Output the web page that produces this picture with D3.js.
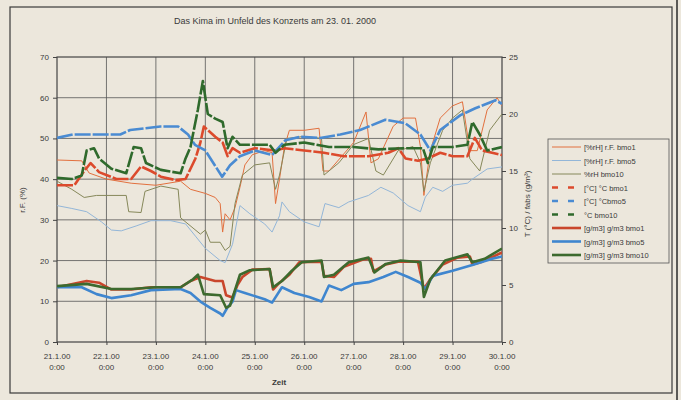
<!DOCTYPE html>
<html>
<head>
<meta charset="utf-8">
<script src="https://d3js.org/d3.v7.min.js"></script>
<style>
  body { margin: 0; background: #ece7dc; }
  text { font-family: "Liberation Sans", Arial, sans-serif; fill: #3a3a3a; }
</style>
</head>
<body>
<div id="chart"></div>
<script>
// day labels for the time axis (0 = 21.1.00 0:00)
var dayLabels = ["21.1.00", "22.1.00", "23.1.00", "24.1.00", "25.1.00", "26.1.00", "27.1.00", "28.1.00", "29.1.00", "30.1.00"];
var leftTicks = [0, 10, 20, 30, 40, 50, 60, 70];
var rightTicks = [0, 5, 10, 15, 20, 25];

// relative humidity, % (left axis) : [day, value]
var rfBmo1 = [[0,44.7],[0.5,44.5],[0.65,41.5],[1,40],[1.5,39],[2,38.5],[2.5,39.5],[2.7,37.5],[3,36.5],[3.2,35.5],[3.3,34],[3.35,27],[3.4,31.5],[3.5,30],[3.6,33],[3.7,38],[3.8,43.5],[3.95,46],[4.2,47],[4.35,46.5],[4.42,34],[4.5,40],[4.6,48],[4.7,52],[5,52],[5.3,52.5],[5.38,42],[5.5,42],[6,49],[6.25,56.5],[6.35,44],[6.5,45],[6.8,53],[7,55],[7.25,55],[7.35,48],[7.42,36],[7.55,47],[7.75,55],[8,58],[8.2,59],[8.35,47],[8.5,47],[8.7,57],[8.9,60],[9,58]];
var rfBmo5 = [[0,33.5],[0.3,32.8],[0.6,32],[0.9,29.5],[1.1,27.5],[1.3,27.3],[1.6,28.5],[1.9,29.8],[2.3,29.8],[2.6,29],[2.8,26],[3,23],[3.3,20],[3.4,19.5],[3.55,24],[3.7,33.5],[3.9,31.5],[4.2,29],[4.35,27],[4.5,31],[4.55,34.4],[4.7,32],[5,29.5],[5.3,28.3],[5.42,34],[5.7,33],[5.9,34.4],[6.3,36],[6.55,38],[6.8,36.6],[7.1,33.5],[7.35,32],[7.45,35.6],[7.6,38],[7.8,37],[8,38.5],[8.3,39],[8.4,40],[8.7,42.5],[9,43]];
var rfBmo10 = [[0,39.5],[0.3,37.5],[0.55,35.5],[0.8,36],[1.4,36],[1.45,32],[1.7,31.8],[1.78,37],[2.1,38.3],[2.45,37.5],[2.5,30.5],[2.9,26.5],[3,27.5],[3.1,24.5],[3.3,24.5],[3.4,22.5],[3.5,23.5],[3.6,34],[3.75,41],[4,43.5],[4.3,44],[4.42,37.5],[4.5,41],[4.65,50],[5,50.5],[5.35,50],[5.4,41],[5.7,44],[6,48.5],[6.3,50],[6.45,42],[6.6,41],[6.9,47],[7.2,48],[7.35,44],[7.42,37],[7.55,44],[7.8,52],[8,55],[8.2,57],[8.35,45],[8.55,42],[8.75,52],[9,56]];

// temperature, °C (right axis)
var tBmo1 = [[0,13.75],[0.35,13.75],[0.55,15],[0.68,15.7],[0.85,14.9],[1.2,14.3],[1.5,14.3],[1.7,15.4],[1.9,15],[2.1,14.5],[2.4,14.2],[2.6,14.3],[2.8,16.1],[2.9,17.5],[2.97,18.9],[3.2,18],[3.35,17.5],[3.45,16.3],[3.55,17],[3.7,16.6],[4,17],[4.4,16.8],[4.6,17],[5,16.8],[5.4,16.6],[5.8,16.3],[6.3,16.3],[6.7,16.6],[6.9,17],[7.05,16.1],[7.3,15.9],[7.5,16.1],[7.75,16.6],[8,16.3],[8.3,16.3],[8.45,17.9],[8.6,16.8],[8.8,16.6],[9,16.4]];
var tBmo5 = [[0,17.9],[0.32,18.2],[1.28,18.2],[1.48,18.6],[2.09,18.9],[2.45,18.9],[2.65,18.2],[2.79,17.3],[3,16.8],[3.34,14.5],[3.5,15.5],[3.7,16.3],[4,16.8],[4.35,16.4],[4.62,17.7],[4.92,18],[5.32,17.9],[5.73,18.2],[6.13,18.6],[6.64,19.5],[7.04,19.2],[7.35,18.2],[7.55,16.8],[7.75,18.6],[8.16,19.9],[8.46,20.5],[8.87,21.2],[9,20.9]];
var tBmo10 = [[0,14.4],[0.3,14.3],[0.5,14.6],[0.6,16.8],[0.75,17],[0.85,16.1],[1.1,15.2],[1.4,14.8],[1.55,17.1],[1.7,17],[1.8,15.7],[2.1,15.1],[2.5,14.8],[2.6,16.1],[2.7,17.1],[2.85,20.4],[2.95,22.9],[3.05,20],[3.2,19.6],[3.35,19.3],[3.45,17],[3.55,18],[3.7,17.3],[4,17.3],[4.3,17.3],[4.42,16.6],[4.6,17.3],[5,17.5],[5.5,17.1],[6,17.1],[6.5,16.9],[7,17],[7.4,17],[7.5,15.7],[7.6,17.1],[8,17.1],[8.3,17.3],[8.4,19.3],[8.55,18.2],[8.7,16.8],[9,17.1]];

// absolute humidity, g/m3 (right axis)
var gBmo1 = [[0,4.8],[0.6,5.35],[0.85,5.2],[1.1,4.6],[1.5,4.6],[1.9,4.8],[2.5,4.8],[2.7,5.35],[2.9,5.7],[3.2,5.35],[3.35,5.35],[3.42,4.1],[3.55,3.9],[3.65,5],[3.75,5.7],[3.95,6.35],[4.3,6.4],[4.37,4.6],[4.5,5.2],[4.7,5.9],[4.9,7],[5.35,7.05],[5.4,5.8],[5.6,5.7],[5.8,6.6],[6.2,7.25],[6.35,7.3],[6.4,6.2],[6.65,6.8],[6.9,7.05],[7.3,7.05],[7.42,4.65],[7.55,5.5],[7.8,6.8],[8.1,7.4],[8.35,7.5],[8.4,6.8],[8.6,7.05],[9,7.85]];
var gBmo5 = [[0,4.8],[0.5,4.8],[0.8,4.2],[1.1,3.85],[1.5,4.1],[1.9,4.55],[2.5,4.65],[2.7,4.3],[2.9,3.55],[3.1,3],[3.3,2.5],[3.35,2.3],[3.45,3.05],[3.55,3.55],[3.62,4.55],[3.8,4.3],[4.2,3.75],[4.35,3.45],[4.55,4.8],[4.8,4.3],[5.1,3.95],[5.35,3.55],[5.5,4.95],[5.75,4.55],[6,5.1],[6.3,5.25],[6.6,5.7],[6.85,6.15],[7.1,5.7],[7.35,5.2],[7.45,4.65],[7.6,5.8],[8,6.25],[8.4,6.75],[8.8,7.3],[9,7.5]];
var gBmo10 = [[0,4.9],[0.6,5.1],[1.1,4.65],[1.5,4.65],[2,4.8],[2.5,4.8],[2.75,5.5],[2.85,5.9],[2.97,4.2],[3.3,4.1],[3.42,3],[3.5,3.2],[3.7,5.9],[3.9,6.3],[4.3,6.4],[4.37,4.8],[4.55,5.35],[4.75,6.25],[4.95,7],[5.35,7.15],[5.4,5.7],[5.6,5.9],[5.9,7],[6.3,7.4],[6.42,6.1],[6.65,6.85],[6.95,7.15],[7.35,7],[7.42,3.95],[7.55,5.5],[7.85,7.15],[8.3,7.7],[8.4,7],[8.65,7.3],[9,8.2]];

var series = [
  { name: "[%rH] r.F. bmo1",   data: rfBmo1, axis: "L", color: "#e2703e", w: 1,   dash: null },
  { name: "[%rH] r.F. bmo5",   data: rfBmo5, axis: "L", color: "#93b6d8", w: 1,   dash: null },
  { name: "%rH bmo10",         data: rfBmo10, axis: "L", color: "#86885a", w: 1,  dash: null },
  { name: "[°C] °C bmo1",      data: tBmo1, axis: "R", color: "#dc4a2c", w: 2.6, dash: "6,10" },
  { name: "[°C] °Cbmo5",       data: tBmo5, axis: "R", color: "#4a8bd2", w: 2.6, dash: "6,10" },
  { name: "°C bmo10",          data: tBmo10, axis: "R", color: "#2f6a2c", w: 2.6, dash: "6,10" },
  { name: "[g/m3] g/m3 bmo1",  data: gBmo1, axis: "R", color: "#c9462c", w: 2.6, dash: null },
  { name: "[g/m3] g/m3 bmo5",  data: gBmo5, axis: "R", color: "#3f86cf", w: 2.6, dash: null },
  { name: "[g/m3] g/m3 bmo10", data: gBmo10, axis: "R", color: "#3d6a2e", w: 2.6, dash: null }
];

var W = 681, H = 400;
var svg = d3.select("#chart").append("svg").attr("width", W).attr("height", H);
svg.append("rect").attr("width", W).attr("height", H).attr("fill", "#ece7dc");

// outer frame
svg.append("rect").attr("x", 10).attr("y", 7).attr("width", 662).attr("height", 386)
  .attr("fill", "none").attr("stroke", "#3a3a3a").attr("stroke-width", 1.2);
svg.append("line").attr("x1", 677).attr("x2", 677).attr("y1", 0).attr("y2", H)
  .attr("stroke", "#2a2a2a").attr("stroke-width", 1.5);

var x = d3.scaleLinear().domain([0, 9]).range([57, 502]);
var yL = d3.scaleLinear().domain([0, 70]).range([342, 57]);
var yR = d3.scaleLinear().domain([0, 25]).range([342, 57]);

// grid
svg.append("g").selectAll("line").data(leftTicks.slice(1, -1)).join("line")
  .attr("x1", x(0)).attr("x2", x(9)).attr("y1", d => yL(d)).attr("y2", d => yL(d))
  .attr("stroke", "#555").attr("stroke-width", 0.8);
svg.append("g").selectAll("line").data(d3.range(1, 9)).join("line")
  .attr("x1", d => x(d)).attr("x2", d => x(d)).attr("y1", yL(0)).attr("y2", yL(70))
  .attr("stroke", "#555").attr("stroke-width", 0.8);
svg.append("rect").attr("x", x(0)).attr("y", yL(70)).attr("width", x(9) - x(0)).attr("height", yL(0) - yL(70))
  .attr("fill", "none").attr("stroke", "#444").attr("stroke-width", 1.2);

// axes
var gl = svg.append("g").attr("transform", "translate(" + x(0) + ",0)")
  .call(d3.axisLeft(yL).tickValues(leftTicks).tickSize(4).tickPadding(4));
var gr = svg.append("g").attr("transform", "translate(" + x(9) + ",0)")
  .call(d3.axisRight(yR).tickValues(rightTicks).tickSize(4).tickPadding(3));
var gb = svg.append("g").attr("transform", "translate(0," + yL(0) + ")")
  .call(d3.axisBottom(x).tickValues(d3.range(0, 10)).tickSize(3).tickFormat(""));
[gl, gr, gb].forEach(function (g) {
  g.select(".domain").remove();
  g.selectAll("line").attr("stroke", "#444");
  g.selectAll("text").attr("font-size", 8).attr("fill", "#444").style("font-family", "Liberation Sans, Arial");
});

var xl = svg.append("g").selectAll("text").data(dayLabels).join("text")
  .attr("text-anchor", "middle").attr("font-size", 8).attr("fill", "#444");
xl.append("tspan").attr("x", (d, i) => x(i)).attr("y", 359).text(d => d);
xl.append("tspan").attr("x", (d, i) => x(i)).attr("y", 370).text("0:00");

// titles
svg.append("text").attr("x", 275).attr("y", 24).attr("text-anchor", "middle").attr("font-size", 9)
  .text("Das Kima im Unfeld des Konzerts am 23. 01. 2000");
svg.append("text").attr("x", 279).attr("y", 385).attr("text-anchor", "middle").attr("font-size", 8)
  .attr("font-weight", "bold").text("Zeit");
svg.append("text").attr("transform", "translate(25,200) rotate(-90)").attr("text-anchor", "middle")
  .attr("font-size", 8).text("r.F. (%)");
svg.append("text").attr("transform", "translate(530,204) rotate(-90)").attr("text-anchor", "middle")
  .attr("font-size", 8).text("T (°C) / fabs (g/m³)");

// lines
var clip = svg.append("defs").append("clipPath").attr("id", "plot")
  .append("rect").attr("x", x(0)).attr("y", yL(70)).attr("width", x(9) - x(0)).attr("height", yL(0) - yL(70));
var lines = svg.append("g").attr("clip-path", "url(#plot)");
series.forEach(function (s) {
  var ys = s.axis === "L" ? yL : yR;
  var line = d3.line().x(d => x(d[0])).y(d => ys(d[1]));
  lines.append("path").datum(s.data).attr("d", line)
    .attr("fill", "none").attr("stroke", s.color).attr("stroke-width", s.w)
    .attr("stroke-linejoin", "round")
    .attr("stroke-dasharray", s.dash ? "16,2" : null);
});

// legend
var lg = svg.append("g");
lg.append("rect").attr("x", 548).attr("y", 139).attr("width", 121).attr("height", 124)
  .attr("fill", "#ece7dc").attr("stroke", "#555").attr("stroke-width", 0.8);
series.forEach(function (s, i) {
  var yy = 147 + i * 13.5;
  lg.append("line").attr("x1", 552).attr("x2", 581).attr("y1", yy).attr("y2", yy)
    .attr("stroke", s.color).attr("stroke-width", s.w)
    .attr("stroke-dasharray", s.dash);
  lg.append("text").attr("x", 584).attr("y", yy + 3).attr("font-size", 7.5).attr("fill", "#444").text(s.name);
});
</script>
</body>
</html>
